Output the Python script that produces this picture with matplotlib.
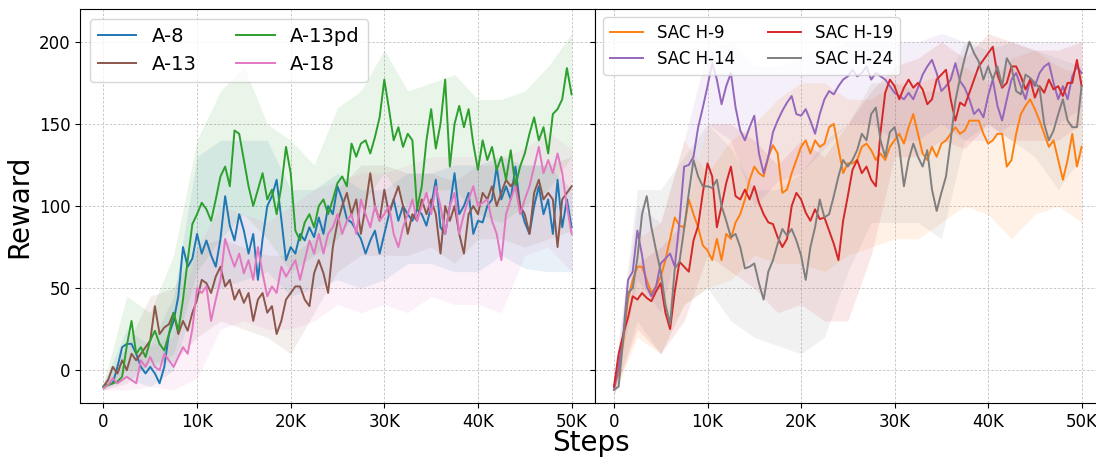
import numpy as np
import matplotlib
matplotlib.use("Agg")
import matplotlib.pyplot as plt

# steps in thousands, one point every 500 steps
steps_k = np.arange(0, 50.01, 0.5)
# band edges are read at every 2.5K steps
band_k = np.arange(0, 50.01, 2.5)

# ---- left panel: A-* agents ----
a8 = [-10, -9, -8, 2, 14, 16, 16, 10, 2, -2,
      2, -2, -8, 2, 22, 30, 45, 75, 63, 68,
      83, 71, 79, 70, 63, 80, 106, 88, 79, 95,
      85, 71, 83, 55, 80, 100, 106, 116, 92, 67,
      75, 71, 83, 79, 87, 81, 93, 83, 100, 95,
      112, 104, 92, 90, 85, 80, 71, 79, 85, 71,
      83, 95, 104, 91, 100, 95, 91, 98, 95, 88,
      100, 116, 87, 83, 100, 120, 95, 100, 108, 83,
      91, 90, 100, 104, 124, 104, 112, 104, 124, 100,
      90, 83, 100, 112, 95, 104, 83, 116, 87, 104,
      87]
a13 = [-10, -6, 2, -2, 6, 0, 10, 6, 10, 14,
       18, 39, 22, 26, 28, 35, 22, 30, 24, 35,
       43, 55, 53, 47, 57, 63, 51, 55, 43, 49,
       41, 47, 30, 43, 47, 35, 39, 22, 30, 43,
       47, 51, 51, 43, 39, 59, 67, 59, 47, 75,
       90, 100, 108, 95, 104, 83, 100, 120, 100, 91,
       110, 95, 104, 112, 100, 83, 95, 91, 104, 95,
       104, 95, 71, 100, 91, 100, 83, 71, 95, 100,
       95, 108, 104, 112, 100, 108, 116, 112, 116, 100,
       95, 83, 108, 116, 104, 108, 104, 75, 104, 108,
       112]
a13pd = [-10, -9, -8, -7, -4, 15, 30, 10, 14, 8,
         18, 24, 16, 12, 22, 35, 24, 43, 67, 89,
         95, 102, 98, 91, 104, 118, 124, 112, 146, 144,
         128, 112, 100, 110, 120, 104, 110, 95, 112, 136,
         120, 85, 79, 90, 95, 87, 100, 104, 95, 104,
         114, 118, 112, 138, 130, 138, 140, 132, 142, 154,
         177, 159, 140, 148, 136, 144, 140, 98, 112, 140,
         159, 135, 150, 177, 124, 150, 161, 148, 159, 138,
         122, 140, 128, 136, 122, 130, 116, 134, 112, 124,
         132, 144, 154, 140, 148, 132, 156, 159, 165, 184,
         168]
a18 = [-11, -9, -5, -8, -6, -4, -6, -8, 6, 2,
       8, 2, 0, 10, 6, 2, 8, 14, 10, 25,
       50, 47, 51, 30, 43, 55, 80, 71, 63, 71,
       59, 67, 55, 75, 59, 45, 51, 47, 63, 57,
       62, 67, 55, 67, 79, 71, 83, 71, 83, 87,
       95, 83, 91, 95, 83, 104, 95, 87, 100, 91,
       95, 100, 83, 75, 87, 95, 104, 91, 100, 108,
       95, 112, 100, 83, 100, 108, 83, 95, 104, 112,
       100, 102, 104, 91, 83, 67, 95, 104, 112, 95,
       104, 112, 124, 136, 120, 128, 120, 132, 120, 100,
       83]

a8_lo = [-12, -5, -10, 0, 50, 50, 55, 60, 45, 50, 55, 50, 55, 65, 65, 60, 60, 70, 62, 60, 60]
a8_hi = [-8, 25, 15, 45, 130, 140, 140, 140, 110, 110, 120, 110, 110, 120, 120, 125, 125, 130, 125, 125, 110]
a13_lo = [-12, -8, 5, 5, 20, 30, 25, 20, 10, 35, 60, 70, 70, 70, 75, 65, 80, 80, 75, 80, 85]
a13_hi = [-8, 15, 45, 50, 75, 80, 75, 70, 70, 80, 110, 125, 125, 120, 120, 115, 125, 125, 125, 125, 130]
a13pd_lo = [-12, 0, 0, 10, 60, 80, 95, 80, 60, 70, 80, 100, 120, 100, 110, 110, 95, 90, 100, 110, 130]
a13pd_hi = [-8, 45, 35, 70, 140, 170, 185, 150, 140, 125, 160, 170, 195, 170, 175, 180, 165, 165, 170, 185, 205]
a18_lo = [-12, -12, -10, -12, -5, 25, 30, 25, 25, 30, 40, 35, 40, 35, 45, 40, 40, 35, 70, 75, 60]
a18_hi = [-8, 5, 15, 20, 75, 100, 95, 90, 100, 110, 115, 120, 120, 125, 130, 130, 130, 130, 135, 145, 135]

# ---- right panel: SAC baselines ----
h9 = [-10, -2, 18, 43, 55, 63, 63, 55, 47, 51,
      57, 67, 80, 93, 88, 87, 104, 95, 87, 76,
      73, 67, 80, 67, 83, 80, 90, 95, 104, 116,
      124, 120, 118, 130, 137, 132, 108, 110, 120, 128,
      136, 140, 132, 140, 136, 138, 148, 150, 135, 120,
      126, 126, 128, 136, 138, 134, 128, 132, 128, 136,
      140, 144, 138, 148, 156, 144, 132, 128, 136, 130,
      138, 140, 144, 148, 144, 146, 152, 152, 152, 144,
      138, 140, 144, 144, 124, 128, 144, 156, 161, 165,
      159, 152, 144, 136, 140, 128, 116, 128, 144, 124,
      136]
h14 = [-12, 2, 22, 55, 60, 85, 70, 51, 45, 51,
       65, 68, 71, 63, 90, 124, 125, 130, 148, 160,
       173, 187, 177, 162, 173, 181, 160, 146, 140, 148,
       155, 132, 120, 130, 145, 152, 158, 163, 167, 156,
       155, 159, 152, 144, 156, 165, 170, 168, 173, 177,
       179, 183, 179, 181, 185, 177, 181, 179, 177, 173,
       169, 167, 165, 169, 165, 172, 180, 185, 189, 181,
       170, 173, 177, 187, 176, 172, 165, 156, 159, 154,
       167, 177, 161, 152, 165, 177, 181, 173, 165, 177,
       173, 181, 185, 187, 175, 165, 173, 165, 179, 185,
       181]
h19 = [-10, 10, 22, 32, 45, 43, 47, 44, 42, 48,
       53, 35, 25, 48, 66, 63, 60, 79, 88, 108,
       126, 118, 87, 100, 114, 124, 106, 104, 110, 104,
       112, 102, 95, 90, 89, 81, 75, 80, 100, 108,
       104, 96, 91, 98, 92, 93, 85, 77, 67, 91,
       106, 122, 128, 120, 124, 116, 112, 145, 169, 177,
       173, 165, 172, 177, 172, 175, 171, 162, 165, 177,
       180, 183, 165, 152, 163, 161, 169, 177, 185, 189,
       193, 197, 180, 172, 175, 185, 185, 179, 171, 177,
       166, 173, 169, 177, 171, 173, 167, 175, 175, 189,
       173]
h24 = [-12, -10, 20, 47, 50, 68, 95, 106, 87, 73,
       60, 40, 28, 62, 66, 86, 108, 128, 118, 112,
       112, 111, 116, 100, 91, 81, 83, 75, 62, 63,
       65, 53, 43, 60, 67, 77, 86, 82, 86, 79,
       70, 55, 75, 87, 104, 93, 95, 106, 118, 128,
       124, 128, 134, 144, 140, 156, 160, 140, 130, 145,
       148, 136, 112, 128, 138, 130, 124, 134, 110, 97,
       108, 118, 140, 164, 178, 190, 200, 193, 188, 177,
       185, 177, 185, 173, 190, 185, 170, 168, 180, 178,
       175, 172, 150, 140, 146, 156, 165, 152, 148, 148,
       173]

h9_lo = [-15, 20, 10, 40, 50, 55, 70, 65, 65, 60, 70, 75, 80, 80, 90, 100, 95, 80, 95, 100, 90]
h9_hi = [-5, 80, 90, 140, 120, 140, 150, 165, 175, 175, 165, 165, 175, 175, 180, 185, 175, 190, 195, 185, 180]
h14_lo = [-15, 55, 35, 90, 150, 140, 100, 115, 120, 135, 150, 150, 140, 140, 150, 140, 140, 150, 150, 150, 160]
h14_hi = [-5, 100, 90, 140, 195, 200, 185, 185, 190, 195, 200, 200, 200, 200, 205, 200, 195, 200, 200, 200, 200]
h19_lo = [-15, 25, 10, 30, 70, 60, 50, 35, 40, 30, 30, 70, 130, 130, 140, 135, 150, 140, 140, 140, 150]
h19_hi = [-5, 65, 75, 90, 150, 150, 140, 125, 140, 130, 150, 170, 185, 190, 200, 190, 205, 200, 195, 195, 200]
h24_lo = [-15, 30, 10, 40, 50, 30, 20, 15, 10, 20, 60, 90, 90, 90, 80, 140, 150, 140, 130, 110, 130]
h24_hi = [-5, 110, 110, 130, 150, 135, 110, 110, 120, 140, 150, 175, 175, 170, 170, 200, 200, 200, 195, 190, 185]


def draw_curve(ax, mean, lo, hi, color, label):
    ax.fill_between(band_k * 1000, lo, hi, color=color, alpha=0.1, linewidth=0)
    ax.plot(steps_k * 1000, mean, color=color, linewidth=1.4, label=label)


def style_axis(ax, left):
    ax.set_xlim(left, 52500)
    ax.set_ylim(-20, 220)
    ax.set_xticks([0, 10000, 20000, 30000, 40000, 50000])
    ax.set_xticklabels(['0', '10K', '20K', '30K', '40K', '50K'])
    ax.set_yticks([0, 50, 100, 150, 200])
    ax.tick_params(labelsize=12)
    ax.grid(True, linestyle=(0, (3, 2)), linewidth=0.6, color='#c0c0c0')
    ax.set_axisbelow(True)


fig = plt.figure(figsize=(10.96, 4.57), dpi=100)
ax1 = fig.add_axes([80 / 1096, 54 / 457, 515 / 1096, 394 / 457])
ax2 = fig.add_axes([595 / 1096, 54 / 457, 510 / 1096, 394 / 457], sharey=ax1)

draw_curve(ax1, a8, a8_lo, a8_hi, 'tab:blue', 'A-8')
draw_curve(ax1, a13, a13_lo, a13_hi, 'tab:brown', 'A-13')
draw_curve(ax1, a13pd, a13pd_lo, a13pd_hi, 'tab:green', 'A-13pd')
draw_curve(ax1, a18, a18_lo, a18_hi, 'tab:pink', 'A-18')

draw_curve(ax2, h9, h9_lo, h9_hi, 'tab:orange', 'SAC H-9')
draw_curve(ax2, h14, h14_lo, h14_hi, 'tab:purple', 'SAC H-14')
draw_curve(ax2, h19, h19_lo, h19_hi, 'tab:red', 'SAC H-19')
draw_curve(ax2, h24, h24_lo, h24_hi, 'tab:gray', 'SAC H-24')

style_axis(ax1, -2500)
style_axis(ax2, -2030)
ax2.tick_params(labelleft=False)

ax1.set_ylabel('Reward', fontsize=20)
ax1.legend(loc='upper left', ncol=2, fontsize=14)
ax2.legend(loc='upper left', ncol=2, fontsize=12)

fig.text(591 / 1096, 1 - 443 / 457, 'Steps', ha='center', va='center', fontsize=20)

fig.savefig('out.png', dpi=100)
